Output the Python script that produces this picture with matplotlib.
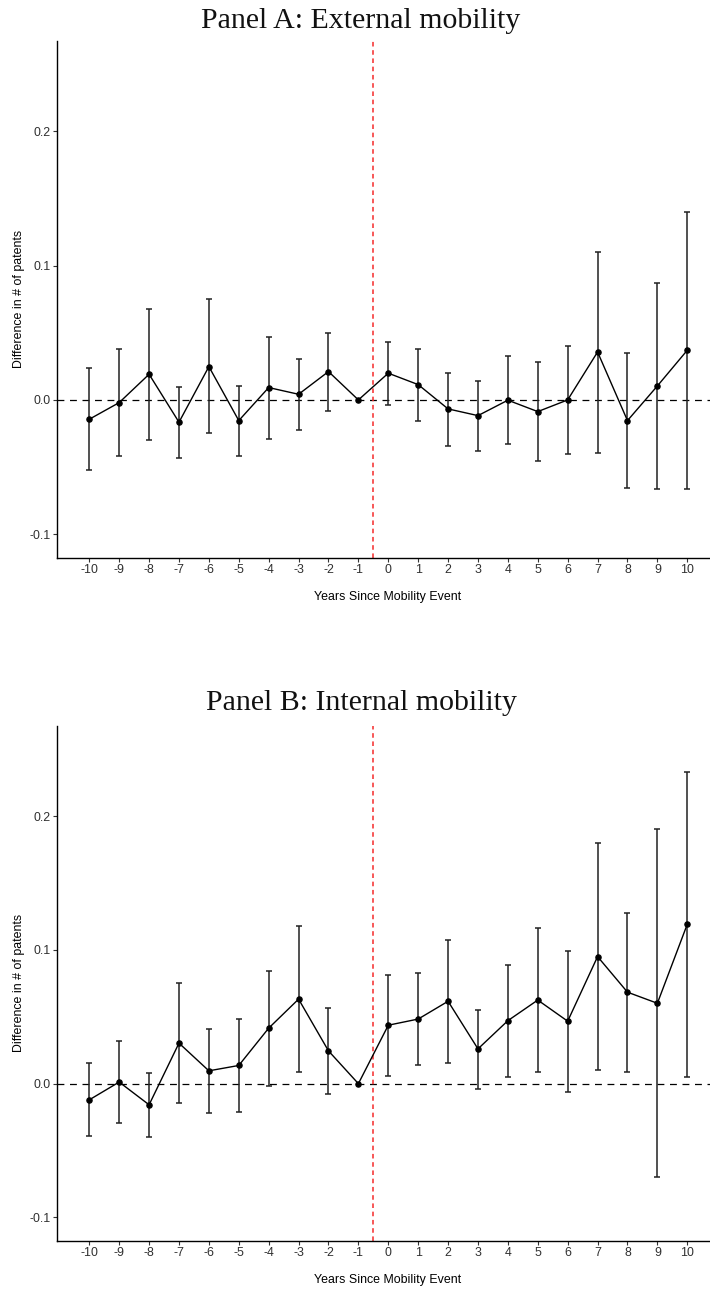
import numpy as np
import matplotlib
matplotlib.use("Agg")
import matplotlib.pyplot as plt

years = list(range(-10, 11))
xtick_labels = [str(y) for y in years]

# Panel A: External mobility
a_est = [-0.0144, -0.0020, 0.0191, -0.0166, 0.0248, -0.0154, 0.0092, 0.0042, 0.0211, 0.0,
         0.0199, 0.0114, -0.0067, -0.0117, -0.0002, -0.0087, 0.0000, 0.0357, -0.0154, 0.0104, 0.0370]
a_hi = [0.0236, 0.0380, 0.0680, 0.0094, 0.0749, 0.0107, 0.0469, 0.0308, 0.0501, 0.0,
        0.0434, 0.0382, 0.0203, 0.0141, 0.0325, 0.0280, 0.0402, 0.1104, 0.0347, 0.0873, 0.1402]
a_lo = [-0.0521, -0.0420, -0.0298, -0.0429, -0.0248, -0.0414, -0.0290, -0.0221, -0.0084, 0.0,
        -0.0037, -0.0154, -0.0342, -0.0380, -0.0328, -0.0454, -0.0400, -0.0392, -0.0658, -0.0665, -0.0665]

# Panel B: Internal mobility
b_est = [-0.0121, 0.0012, -0.0158, 0.0303, 0.0096, 0.0136, 0.0415, 0.0632, 0.0245, 0.0,
         0.0437, 0.0483, 0.0616, 0.0260, 0.0471, 0.0625, 0.0467, 0.0950, 0.0684, 0.0601, 0.1192]
b_hi = [0.0152, 0.0322, 0.0080, 0.0749, 0.0412, 0.0480, 0.0839, 0.1176, 0.0567, 0.0,
        0.0814, 0.0827, 0.1071, 0.0554, 0.0885, 0.1161, 0.0994, 0.1799, 0.1279, 0.1901, 0.2334]
b_lo = [-0.0393, -0.0291, -0.0400, -0.0142, -0.0220, -0.0210, -0.0015, 0.0087, -0.0077, 0.0,
        0.0059, 0.0136, 0.0155, -0.0040, 0.0053, 0.0087, -0.0062, 0.0099, 0.0084, -0.0697, 0.0050]

titles = ["Panel A: External mobility", "Panel B: Internal mobility"]
yticks = [-0.1, 0.0, 0.1, 0.2]
ytick_labels = ["-0.1", "0.0", "0.1", "0.2"]
xlabel = "Years Since Mobility Event"
ylabel = "Difference in # of patents"

W, H = 710, 1291
fig = plt.figure(figsize=(W / 100, H / 100), dpi=100)
fig.patch.set_facecolor("white")

sans = ["Liberation Sans", "DejaVu Sans"]
serif = ["Liberation Serif", "DejaVu Serif"]

panels = [
    (a_est, a_lo, a_hi, 40.7, 557.7, 28.0),
    (b_est, b_lo, b_hi, 725.9, 1240.8, 710.0),
]

left_px, right_px = 57.0, 710.0
for i, (est, lo, hi, top_px, bot_px, title_base) in enumerate(panels):
    ax = fig.add_axes([left_px / W, 1 - bot_px / H, (right_px - left_px) / W, (bot_px - top_px) / H])
    x = np.array(years, dtype=float)
    est = np.array(est); lo = np.array(lo); hi = np.array(hi)
    mask = hi > lo
    ax.axhline(0, color="black", lw=0.9, ls=(0, (5.5, 4.5)), zorder=1)
    ax.axvline(-0.5, color="#F52A2A", lw=1.1, ls=(0, (3.0, 2.4)), zorder=1)
    ax.errorbar(x[mask], est[mask], yerr=[est[mask] - lo[mask], hi[mask] - est[mask]],
                fmt="none", ecolor="#222222", elinewidth=1.1, capsize=2.3, capthick=1.1, zorder=2)
    ax.plot(x, est, color="black", lw=1.0, zorder=3)
    ax.plot(x, est, "o", color="black", ms=3.7, zorder=4)
    ax.set_xlim(-11.08, 10.76)
    ax.set_ylim(-0.1175, 0.2675)
    ax.set_xticks(years)
    ax.set_xticklabels(xtick_labels, fontfamily=sans, fontsize=8.9, color="#303030")
    ax.set_yticks(yticks)
    ax.set_yticklabels(ytick_labels, fontfamily=sans, fontsize=8.9, color="#303030")
    ax.tick_params(axis="both", length=2.6, width=0.8, color="#333333", pad=2.2)
    for s in ["top", "right"]:
        ax.spines[s].set_visible(False)
    for s in ["left", "bottom"]:
        ax.spines[s].set_color("black")
        ax.spines[s].set_linewidth(1.0)
    fig.text(361 / W, 1 - title_base / H, titles[i], ha="center", va="baseline",
             fontfamily=serif, fontsize=21.5, color="#111111")
    fig.text((left_px + 331) / W, 1 - (bot_px + 39) / H, xlabel, ha="center", va="center",
             fontfamily=sans, fontsize=8.9, color="black")
    fig.text(19 / W, 1 - (top_px + bot_px) / 2 / H, ylabel, ha="center", va="center",
             rotation=90, fontfamily=sans, fontsize=8.9, color="black")

fig.savefig("out.png", dpi=100, facecolor="white")
